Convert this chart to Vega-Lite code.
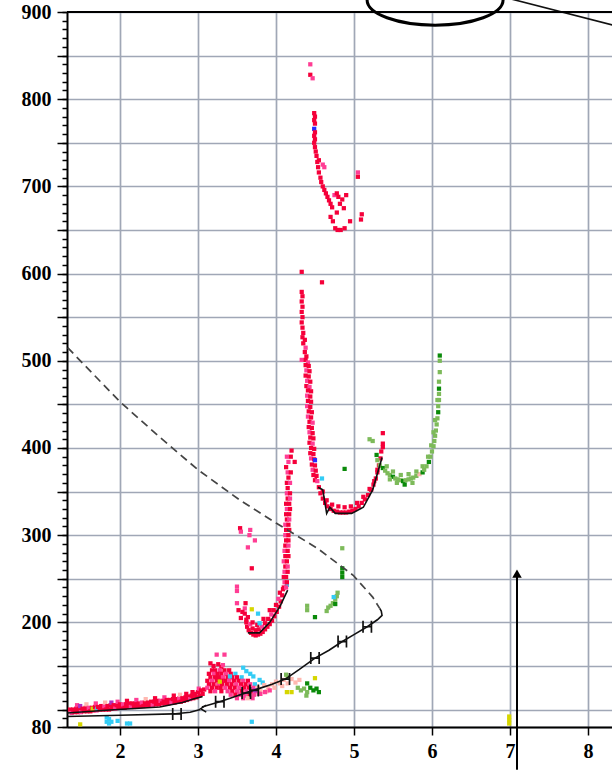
{
"$schema": "https://vega.github.io/schema/vega-lite/v6.json",
"width": 545, "height": 715,
"autosize": {"type": "none"},
"padding": {"left": 67, "top": 12, "right": 0, "bottom": 43},
"background": "white",
"config": {"view": {"stroke": null},
 "axis": {"labelFont": "Liberation Serif", "labelFontWeight": "bold", "labelFontSize": 20, "labelColor": "black", "tickColor": "black", "tickWidth": 1.5, "domainColor": "black", "domainWidth": 2, "gridColor": "#a0a7b6", "gridWidth": 1.7}},
"resolve": {"axis": {"y": "independent"}},
"datasets": {
"pts": [
{"x":1.36,"y":100,"c":"r"},{"x":1.38,"y":96,"c":"p"},{"x":1.40,"y":100,"c":"r"},{"x":1.42,"y":97,"c":"r"},
{"x":1.44,"y":101,"c":"r"},{"x":1.46,"y":97,"c":"r"},{"x":1.45,"y":105,"c":"p"},
{"x":1.48,"y":101,"c":"r"},{"x":1.50,"y":97,"c":"p"},{"x":1.49,"y":104,"c":"mg"},
{"x":1.52,"y":101,"c":"r"},{"x":1.54,"y":98,"c":"r"},
{"x":1.56,"y":102,"c":"r"},{"x":1.58,"y":98,"c":"r"},{"x":1.57,"y":106,"c":"lp"},
{"x":1.60,"y":102,"c":"p"},{"x":1.62,"y":98,"c":"r"},
{"x":1.64,"y":102,"c":"r"},{"x":1.66,"y":99,"c":"r"},{"x":1.65,"y":101,"c":"ye"},
{"x":1.68,"y":103,"c":"r"},{"x":1.70,"y":99,"c":"p"},{"x":1.69,"y":107,"c":"p"},{"x":1.71,"y":101,"c":"cy"},
{"x":1.72,"y":103,"c":"r"},{"x":1.74,"y":100,"c":"r"},
{"x":1.76,"y":104,"c":"r"},{"x":1.78,"y":100,"c":"r"},
{"x":1.80,"y":104,"c":"p"},{"x":1.82,"y":100,"c":"r"},{"x":1.81,"y":108,"c":"lp"},
{"x":1.84,"y":104,"c":"r"},{"x":1.86,"y":100,"c":"r"},
{"x":1.88,"y":105,"c":"r"},{"x":1.90,"y":101,"c":"r"},{"x":1.89,"y":108,"c":"mg"},
{"x":1.92,"y":105,"c":"r"},{"x":1.94,"y":101,"c":"p"},
{"x":1.96,"y":105,"c":"r"},{"x":1.98,"y":102,"c":"r"},{"x":1.97,"y":109,"c":"p"},
{"x":2.00,"y":106,"c":"r"},{"x":2.02,"y":102,"c":"r"},
{"x":2.04,"y":106,"c":"p"},{"x":2.06,"y":102,"c":"r"},
{"x":2.08,"y":106,"c":"r"},{"x":2.10,"y":103,"c":"r"},{"x":2.09,"y":110,"c":"r"},
{"x":2.12,"y":107,"c":"r"},{"x":2.14,"y":103,"c":"p"},
{"x":2.16,"y":107,"c":"r"},{"x":2.18,"y":103,"c":"r"},
{"x":2.20,"y":107,"c":"r"},{"x":2.22,"y":104,"c":"r"},{"x":2.21,"y":111,"c":"p"},
{"x":2.24,"y":107,"c":"r"},{"x":2.26,"y":104,"c":"r"},
{"x":2.28,"y":108,"c":"p"},{"x":2.30,"y":104,"c":"r"},
{"x":2.32,"y":108,"c":"r"},{"x":2.34,"y":105,"c":"r"},{"x":2.33,"y":112,"c":"lp"},
{"x":2.36,"y":108,"c":"r"},{"x":2.38,"y":105,"c":"r"},
{"x":2.40,"y":109,"c":"r"},{"x":2.42,"y":105,"c":"p"},
{"x":2.44,"y":109,"c":"r"},{"x":2.46,"y":106,"c":"r"},{"x":2.45,"y":113,"c":"r"},
{"x":2.48,"y":110,"c":"r"},{"x":2.50,"y":106,"c":"r"},
{"x":2.52,"y":110,"c":"p"},{"x":2.54,"y":107,"c":"r"},
{"x":2.56,"y":110,"c":"r"},{"x":2.58,"y":107,"c":"r"},{"x":2.57,"y":114,"c":"p"},
{"x":2.60,"y":111,"c":"r"},{"x":2.62,"y":107,"c":"r"},
{"x":2.64,"y":111,"c":"r"},{"x":2.66,"y":108,"c":"p"},
{"x":2.68,"y":112,"c":"r"},{"x":2.70,"y":108,"c":"r"},{"x":2.69,"y":116,"c":"r"},
{"x":2.72,"y":112,"c":"r"},{"x":2.74,"y":109,"c":"r"},
{"x":2.76,"y":113,"c":"p"},{"x":2.78,"y":109,"c":"r"},{"x":2.77,"y":117,"c":"lp"},
{"x":2.80,"y":113,"c":"r"},{"x":2.82,"y":110,"c":"r"},
{"x":2.84,"y":114,"c":"r"},{"x":2.86,"y":111,"c":"r"},{"x":2.85,"y":118,"c":"r"},
{"x":2.88,"y":115,"c":"r"},{"x":2.90,"y":112,"c":"p"},
{"x":2.92,"y":116,"c":"r"},{"x":2.94,"y":113,"c":"r"},{"x":2.93,"y":120,"c":"r"},
{"x":2.96,"y":118,"c":"r"},{"x":2.98,"y":114,"c":"r"},
{"x":3.00,"y":120,"c":"r"},{"x":3.02,"y":116,"c":"r"},{"x":3.01,"y":124,"c":"p"},
{"x":3.04,"y":122,"c":"r"},{"x":3.06,"y":118,"c":"r"},{"x":3.08,"y":123,"c":"r"},
{"x":3.24,"y":163,"c":"p"},{"x":3.34,"y":163,"c":"p"},{"x":3.16,"y":153,"c":"r"},{"x":3.20,"y":150,"c":"r"},{"x":3.26,"y":152,"c":"r"},{"x":3.30,"y":149,"c":"r"},{"x":3.32,"y":151,"c":"p"},
{"x":3.18,"y":145,"c":"r"},{"x":3.22,"y":145,"c":"r"},{"x":3.28,"y":145,"c":"p"},{"x":3.34,"y":145,"c":"r"},{"x":3.40,"y":145,"c":"r"},
{"x":3.14,"y":141,"c":"r"},{"x":3.20,"y":141,"c":"p"},{"x":3.25,"y":141,"c":"r"},{"x":3.30,"y":141,"c":"r"},{"x":3.36,"y":141,"c":"p"},{"x":3.42,"y":141,"c":"r"},{"x":3.48,"y":141,"c":"cy"},
{"x":3.16,"y":137,"c":"r"},{"x":3.22,"y":137,"c":"r"},{"x":3.27,"y":137,"c":"r"},{"x":3.32,"y":137,"c":"p"},{"x":3.38,"y":137,"c":"r"},{"x":3.44,"y":137,"c":"r"},{"x":3.50,"y":137,"c":"r"},{"x":3.56,"y":137,"c":"cy"},
{"x":3.12,"y":133,"c":"r"},{"x":3.18,"y":133,"c":"p"},{"x":3.24,"y":133,"c":"r"},{"x":3.30,"y":133,"c":"r"},{"x":3.35,"y":133,"c":"r"},{"x":3.40,"y":133,"c":"p"},{"x":3.46,"y":133,"c":"r"},{"x":3.52,"y":133,"c":"r"},{"x":3.58,"y":133,"c":"p"},{"x":3.64,"y":133,"c":"r"},
{"x":3.14,"y":129,"c":"r"},{"x":3.20,"y":129,"c":"r"},{"x":3.26,"y":129,"c":"p"},{"x":3.31,"y":129,"c":"r"},{"x":3.37,"y":129,"c":"r"},{"x":3.43,"y":129,"c":"r"},{"x":3.49,"y":129,"c":"p"},{"x":3.55,"y":129,"c":"r"},{"x":3.61,"y":129,"c":"r"},{"x":3.67,"y":129,"c":"p"},{"x":3.73,"y":129,"c":"cy"},
{"x":3.12,"y":125,"c":"p"},{"x":3.18,"y":125,"c":"r"},{"x":3.24,"y":125,"c":"r"},{"x":3.29,"y":125,"c":"r"},{"x":3.35,"y":125,"c":"p"},{"x":3.41,"y":125,"c":"r"},{"x":3.47,"y":125,"c":"r"},{"x":3.53,"y":125,"c":"p"},{"x":3.59,"y":125,"c":"r"},{"x":3.65,"y":125,"c":"r"},{"x":3.71,"y":125,"c":"p"},{"x":3.77,"y":125,"c":"lp"},
{"x":3.16,"y":121,"c":"r"},{"x":3.22,"y":121,"c":"p"},{"x":3.30,"y":121,"c":"r"},{"x":3.38,"y":121,"c":"p"},{"x":3.44,"y":121,"c":"r"},{"x":3.50,"y":121,"c":"p"},{"x":3.56,"y":121,"c":"r"},{"x":3.62,"y":121,"c":"p"},{"x":3.68,"y":121,"c":"r"},{"x":3.74,"y":121,"c":"p"},{"x":3.80,"y":121,"c":"lp"},
{"x":3.42,"y":117,"c":"p"},{"x":3.48,"y":117,"c":"r"},{"x":3.54,"y":117,"c":"p"},{"x":3.60,"y":116,"c":"p"},{"x":3.66,"y":117,"c":"r"},{"x":3.72,"y":117,"c":"p"},{"x":3.78,"y":118,"c":"p"},
{"x":3.50,"y":113,"c":"p"},{"x":3.58,"y":113,"c":"p"},{"x":3.64,"y":113,"c":"lp"},{"x":3.70,"y":113,"c":"p"},
{"x":3.41,"y":138,"c":"cy"},{"x":3.62,"y":144,"c":"cy"},{"x":3.67,"y":141,"c":"cy"},{"x":3.71,"y":138,"c":"cy"},{"x":3.79,"y":134,"c":"cy"},{"x":3.83,"y":131,"c":"cy"},{"x":3.58,"y":148,"c":"cy"},
{"x":3.28,"y":132,"c":"ye"},{"x":3.73,"y":122,"c":"mg"},
{"x":3.85,"y":128,"c":"lp"},{"x":3.90,"y":125,"c":"lp"},{"x":3.95,"y":129,"c":"lp"},{"x":4.00,"y":132,"c":"lp"},{"x":4.05,"y":130,"c":"lp"},{"x":4.10,"y":134,"c":"lp"},{"x":4.15,"y":130,"c":"lp"},{"x":4.20,"y":135,"c":"lp"},{"x":4.25,"y":131,"c":"lp"},{"x":4.30,"y":134,"c":"lp"},{"x":3.88,"y":121,"c":"lp"},{"x":3.98,"y":125,"c":"lp"},{"x":4.08,"y":127,"c":"lp"},
{"x":3.80,"y":118,"c":"p"},{"x":3.86,"y":120,"c":"p"},{"x":3.92,"y":122,"c":"p"},
{"x":3.62,"y":200,"c":"r"},{"x":3.63,"y":195,"c":"r"},{"x":3.65,"y":191,"c":"r"},{"x":3.68,"y":188,"c":"r"},{"x":3.71,"y":186,"c":"r"},{"x":3.74,"y":185,"c":"r"},{"x":3.77,"y":186,"c":"r"},{"x":3.80,"y":187,"c":"r"},{"x":3.83,"y":189,"c":"r"},{"x":3.86,"y":192,"c":"r"},{"x":3.89,"y":195,"c":"r"},{"x":3.92,"y":198,"c":"r"},{"x":3.95,"y":202,"c":"r"},{"x":3.98,"y":207,"c":"r"},{"x":4.01,"y":212,"c":"r"},{"x":4.04,"y":218,"c":"r"},{"x":4.06,"y":224,"c":"r"},{"x":4.08,"y":231,"c":"r"},{"x":4.09,"y":238,"c":"r"},
{"x":3.64,"y":206,"c":"r"},{"x":3.67,"y":198,"c":"p"},{"x":3.70,"y":193,"c":"r"},{"x":3.74,"y":191,"c":"r"},{"x":3.78,"y":192,"c":"r"},{"x":3.82,"y":195,"c":"p"},{"x":3.86,"y":199,"c":"r"},{"x":3.90,"y":204,"c":"r"},{"x":3.94,"y":209,"c":"p"},{"x":3.97,"y":214,"c":"r"},{"x":4.00,"y":220,"c":"r"},{"x":4.03,"y":227,"c":"p"},{"x":4.05,"y":234,"c":"r"},{"x":3.70,"y":200,"c":"r"},{"x":3.76,"y":197,"c":"r"},{"x":3.84,"y":204,"c":"r"},{"x":3.92,"y":214,"c":"r"},
{"x":3.60,"y":210,"c":"r"},{"x":3.60,"y":216,"c":"p"},{"x":3.61,"y":222,"c":"r"},{"x":3.52,"y":214,"c":"r"},{"x":3.57,"y":212,"c":"r"},{"x":3.55,"y":205,"c":"r"},{"x":3.62,"y":203,"c":"r"},
{"x":3.69,"y":215,"c":"ye"},{"x":3.77,"y":210,"c":"cy"},{"x":3.79,"y":199,"c":"cy"},{"x":4.14,"y":243,"c":"cy"},
{"x":3.54,"y":308,"c":"r"},{"x":3.55,"y":304,"c":"p"},{"x":3.67,"y":306,"c":"p"},{"x":3.66,"y":300,"c":"p"},{"x":3.73,"y":294,"c":"p"},{"x":3.64,"y":286,"c":"p"},{"x":3.69,"y":262,"c":"r"},{"x":3.50,"y":241,"c":"p"},{"x":3.50,"y":236,"c":"p"},{"x":3.50,"y":222,"c":"p"},
{"x":4.10,"y":240,"c":"r"},{"x":4.13,"y":240,"c":"p"},{"x":4.11,"y":246,"c":"p"},{"x":4.14,"y":246,"c":"r"},{"x":4.10,"y":252,"c":"r"},{"x":4.13,"y":252,"c":"r"},{"x":4.11,"y":258,"c":"p"},{"x":4.15,"y":258,"c":"r"},{"x":4.12,"y":264,"c":"r"},{"x":4.15,"y":264,"c":"p"},{"x":4.10,"y":270,"c":"p"},{"x":4.14,"y":270,"c":"r"},{"x":4.12,"y":276,"c":"r"},{"x":4.16,"y":276,"c":"r"},{"x":4.11,"y":282,"c":"p"},{"x":4.15,"y":282,"c":"r"},{"x":4.12,"y":288,"c":"r"},{"x":4.16,"y":288,"c":"p"},{"x":4.13,"y":294,"c":"r"},{"x":4.16,"y":294,"c":"r"},{"x":4.12,"y":300,"c":"p"},{"x":4.16,"y":300,"c":"r"},{"x":4.13,"y":306,"c":"r"},{"x":4.17,"y":306,"c":"r"},{"x":4.12,"y":312,"c":"p"},{"x":4.16,"y":312,"c":"r"},{"x":4.14,"y":318,"c":"r"},{"x":4.17,"y":318,"c":"p"},{"x":4.13,"y":324,"c":"r"},{"x":4.17,"y":324,"c":"r"},{"x":4.14,"y":330,"c":"p"},{"x":4.18,"y":330,"c":"r"},{"x":4.13,"y":336,"c":"r"},{"x":4.17,"y":336,"c":"r"},{"x":4.15,"y":342,"c":"r"},{"x":4.18,"y":342,"c":"p"},{"x":4.14,"y":348,"c":"p"},{"x":4.18,"y":348,"c":"r"},{"x":4.15,"y":354,"c":"r"},{"x":4.14,"y":360,"c":"r"},{"x":4.18,"y":360,"c":"p"},{"x":4.16,"y":366,"c":"r"},{"x":4.15,"y":372,"c":"p"},{"x":4.19,"y":372,"c":"r"},{"x":4.13,"y":378,"c":"r"},{"x":4.16,"y":384,"c":"p"},{"x":4.24,"y":384,"c":"r"},{"x":4.19,"y":390,"c":"r"},{"x":4.20,"y":397,"c":"r"},{"x":4.14,"y":390,"c":"p"},
{"x":4.33,"y":602,"c":"r"},{"x":4.59,"y":590,"c":"r"},
{"x":4.33,"y":579,"c":"r"},{"x":4.34,"y":574,"c":"r"},{"x":4.33,"y":568,"c":"r"},{"x":4.34,"y":562,"c":"r"},{"x":4.33,"y":556,"c":"r"},{"x":4.34,"y":550,"c":"r"},{"x":4.33,"y":544,"c":"r"},{"x":4.34,"y":538,"c":"r"},{"x":4.35,"y":532,"c":"r"},{"x":4.34,"y":527,"c":"r"},{"x":4.37,"y":524,"c":"r"},{"x":4.35,"y":520,"c":"r"},{"x":4.38,"y":515,"c":"p"},{"x":4.37,"y":510,"c":"r"},{"x":4.39,"y":505,"c":"r"},{"x":4.33,"y":501,"c":"p"},{"x":4.38,"y":501,"c":"r"},{"x":4.41,"y":498,"c":"p"},
{"x":4.38,"y":495,"c":"r"},{"x":4.42,"y":494,"c":"r"},{"x":4.39,"y":489,"c":"p"},{"x":4.43,"y":488,"c":"r"},{"x":4.38,"y":483,"c":"r"},{"x":4.42,"y":482,"c":"r"},{"x":4.40,"y":477,"c":"p"},{"x":4.44,"y":476,"c":"r"},{"x":4.39,"y":471,"c":"r"},{"x":4.43,"y":470,"c":"p"},{"x":4.41,"y":466,"c":"r"},{"x":4.45,"y":465,"c":"r"},
{"x":4.40,"y":460,"c":"p"},{"x":4.44,"y":459,"c":"r"},{"x":4.41,"y":454,"c":"r"},{"x":4.45,"y":453,"c":"r"},{"x":4.40,"y":448,"c":"p"},{"x":4.44,"y":447,"c":"r"},{"x":4.42,"y":442,"c":"r"},{"x":4.46,"y":441,"c":"r"},{"x":4.41,"y":436,"c":"p"},{"x":4.45,"y":435,"c":"r"},{"x":4.43,"y":430,"c":"r"},{"x":4.47,"y":429,"c":"p"},
{"x":4.42,"y":424,"c":"r"},{"x":4.46,"y":423,"c":"r"},{"x":4.43,"y":418,"c":"p"},{"x":4.47,"y":417,"c":"r"},{"x":4.44,"y":412,"c":"r"},{"x":4.48,"y":411,"c":"r"},{"x":4.43,"y":406,"c":"r"},{"x":4.47,"y":405,"c":"p"},{"x":4.45,"y":400,"c":"r"},{"x":4.49,"y":399,"c":"r"},
{"x":4.44,"y":394,"c":"r"},{"x":4.48,"y":393,"c":"r"},{"x":4.45,"y":388,"c":"p"},{"x":4.49,"y":387,"c":"r"},{"x":4.46,"y":381,"c":"r"},{"x":4.50,"y":380,"c":"r"},{"x":4.47,"y":375,"c":"p"},{"x":4.51,"y":374,"c":"r"},{"x":4.48,"y":369,"c":"r"},{"x":4.52,"y":368,"c":"r"},{"x":4.50,"y":363,"c":"r"},{"x":4.53,"y":362,"c":"p"},{"x":4.50,"y":386,"c":"bl"},{"x":4.59,"y":365,"c":"cy"},
{"x":4.55,"y":355,"c":"r"},{"x":4.57,"y":348,"c":"r"},{"x":4.60,"y":342,"c":"r"},{"x":4.63,"y":337,"c":"r"},{"x":4.66,"y":333,"c":"r"},{"x":4.70,"y":330,"c":"r"},{"x":4.74,"y":328,"c":"r"},{"x":4.78,"y":327,"c":"r"},{"x":4.82,"y":326,"c":"r"},{"x":4.86,"y":326,"c":"r"},{"x":4.90,"y":326,"c":"r"},{"x":4.94,"y":327,"c":"r"},{"x":4.98,"y":328,"c":"r"},{"x":5.02,"y":330,"c":"r"},{"x":5.06,"y":333,"c":"r"},{"x":5.10,"y":337,"c":"r"},{"x":5.14,"y":341,"c":"r"},{"x":5.18,"y":346,"c":"r"},{"x":5.22,"y":352,"c":"r"},{"x":5.25,"y":358,"c":"r"},{"x":5.28,"y":365,"c":"r"},{"x":5.30,"y":372,"c":"r"},{"x":5.32,"y":380,"c":"r"},{"x":5.34,"y":388,"c":"r"},{"x":5.35,"y":396,"c":"r"},
{"x":4.60,"y":350,"c":"r"},{"x":4.65,"y":340,"c":"r"},{"x":4.72,"y":335,"c":"r"},{"x":4.80,"y":333,"c":"r"},{"x":4.88,"y":332,"c":"r"},{"x":4.96,"y":333,"c":"r"},{"x":5.04,"y":337,"c":"r"},{"x":5.12,"y":344,"c":"r"},{"x":5.20,"y":353,"c":"r"},{"x":5.26,"y":362,"c":"r"},{"x":5.30,"y":375,"c":"r"},
{"x":5.37,"y":401,"c":"r"},{"x":5.37,"y":405,"c":"r"},{"x":5.37,"y":417,"c":"r"},
{"x":4.44,"y":840,"c":"p"},{"x":4.44,"y":828,"c":"r"},{"x":4.47,"y":824,"c":"p"},
{"x":4.49,"y":784,"c":"r"},{"x":4.50,"y":780,"c":"r"},{"x":4.49,"y":776,"c":"r"},{"x":4.50,"y":772,"c":"r"},{"x":4.49,"y":766,"c":"bl"},{"x":4.50,"y":762,"c":"r"},{"x":4.49,"y":758,"c":"r"},{"x":4.50,"y":754,"c":"r"},{"x":4.49,"y":750,"c":"r"},
{"x":4.50,"y":745,"c":"r"},{"x":4.51,"y":740,"c":"r"},{"x":4.52,"y":735,"c":"r"},{"x":4.53,"y":728,"c":"r"},{"x":4.54,"y":722,"c":"r"},{"x":4.55,"y":716,"c":"r"},{"x":4.57,"y":710,"c":"r"},{"x":4.58,"y":705,"c":"r"},{"x":4.60,"y":700,"c":"r"},{"x":4.62,"y":696,"c":"r"},{"x":4.64,"y":692,"c":"r"},{"x":4.66,"y":688,"c":"r"},{"x":4.68,"y":684,"c":"r"},{"x":4.70,"y":680,"c":"r"},{"x":4.72,"y":676,"c":"r"},{"x":4.75,"y":690,"c":"p"},{"x":4.78,"y":692,"c":"r"},{"x":4.80,"y":688,"c":"r"},{"x":4.82,"y":680,"c":"r"},{"x":4.85,"y":685,"c":"r"},{"x":4.87,"y":675,"c":"r"},{"x":4.90,"y":690,"c":"r"},{"x":4.78,"y":670,"c":"r"},{"x":4.70,"y":665,"c":"r"},{"x":4.73,"y":660,"c":"r"},{"x":4.76,"y":652,"c":"r"},{"x":4.79,"y":650,"c":"r"},{"x":4.83,"y":650,"c":"r"},{"x":4.88,"y":652,"c":"r"},{"x":4.95,"y":660,"c":"r"},{"x":5.05,"y":716,"c":"p"},{"x":5.05,"y":711,"c":"r"},{"x":5.10,"y":668,"c":"r"},{"x":5.09,"y":662,"c":"r"},{"x":4.60,"y":725,"c":"p"},{"x":4.62,"y":722,"c":"p"},{"x":4.55,"y":730,"c":"r"},
{"x":5.20,"y":410,"c":"lg"},{"x":5.24,"y":408,"c":"lg"},{"x":5.29,"y":392,"c":"dg"},{"x":5.30,"y":386,"c":"lg"},{"x":5.33,"y":380,"c":"lg"},
{"x":5.37,"y":377,"c":"dg"},{"x":5.40,"y":374,"c":"lg"},{"x":5.43,"y":371,"c":"lg"},{"x":5.46,"y":369,"c":"lg"},{"x":5.50,"y":367,"c":"dg"},{"x":5.53,"y":365,"c":"lg"},{"x":5.56,"y":364,"c":"lg"},{"x":5.60,"y":363,"c":"lg"},{"x":5.63,"y":362,"c":"dg"},{"x":5.66,"y":363,"c":"lg"},{"x":5.70,"y":364,"c":"lg"},{"x":5.73,"y":365,"c":"lg"},{"x":5.76,"y":366,"c":"lg"},{"x":5.80,"y":368,"c":"lg"},{"x":5.84,"y":370,"c":"lp"},{"x":5.88,"y":372,"c":"dg"},{"x":5.90,"y":375,"c":"lg"},{"x":5.93,"y":379,"c":"lg"},{"x":5.96,"y":384,"c":"dg"},{"x":5.98,"y":390,"c":"lg"},{"x":6.00,"y":396,"c":"lg"},{"x":6.02,"y":402,"c":"lg"},{"x":6.03,"y":408,"c":"lg"},{"x":6.04,"y":414,"c":"lg"},{"x":6.05,"y":420,"c":"lg"},{"x":6.06,"y":427,"c":"lg"},{"x":6.07,"y":434,"c":"lg"},{"x":6.08,"y":441,"c":"dg"},{"x":6.08,"y":448,"c":"lg"},{"x":6.09,"y":455,"c":"lg"},{"x":6.09,"y":462,"c":"lg"},{"x":6.09,"y":468,"c":"dg"},{"x":6.09,"y":476,"c":"lg"},{"x":6.10,"y":487,"c":"lg"},{"x":6.10,"y":500,"c":"lg"},{"x":6.10,"y":506,"c":"dg"},
{"x":5.42,"y":379,"c":"lg"},{"x":5.50,"y":373,"c":"lg"},{"x":5.60,"y":369,"c":"lg"},{"x":5.70,"y":370,"c":"lg"},{"x":5.80,"y":373,"c":"lg"},{"x":5.88,"y":379,"c":"lg"},{"x":5.95,"y":390,"c":"lg"},{"x":5.99,"y":403,"c":"lg"},{"x":6.02,"y":418,"c":"lg"},{"x":6.04,"y":432,"c":"lg"},{"x":5.46,"y":364,"c":"lg"},{"x":5.55,"y":360,"c":"lg"},{"x":5.65,"y":358,"c":"dg"},{"x":5.75,"y":360,"c":"lg"},{"x":6.07,"y":455,"c":"lg"},
{"x":4.88,"y":376,"c":"dg"},
{"x":4.85,"y":285,"c":"lg"},{"x":4.85,"y":262,"c":"dg"},{"x":4.85,"y":257,"c":"dg"},{"x":4.85,"y":252,"c":"dg"},{"x":4.40,"y":219,"c":"lg"},{"x":4.40,"y":214,"c":"lg"},{"x":4.50,"y":206,"c":"dg"},{"x":4.65,"y":213,"c":"lg"},{"x":4.67,"y":217,"c":"lg"},{"x":4.70,"y":219,"c":"lg"},{"x":4.73,"y":222,"c":"lg"},{"x":4.76,"y":226,"c":"lg"},{"x":4.78,"y":230,"c":"lg"},{"x":4.79,"y":234,"c":"lg"},{"x":4.76,"y":221,"c":"dg"},{"x":4.74,"y":229,"c":"cy"},
{"x":4.15,"y":137,"c":"lg"},{"x":4.13,"y":140,"c":"lg"},{"x":4.40,"y":130,"c":"dg"},{"x":4.44,"y":125,"c":"dg"},{"x":4.48,"y":122,"c":"dg"},{"x":4.52,"y":124,"c":"dg"},{"x":4.55,"y":120,"c":"dg"},{"x":4.28,"y":125,"c":"lg"},{"x":4.32,"y":122,"c":"lg"},{"x":4.36,"y":124,"c":"lg"},{"x":4.40,"y":120,"c":"lg"},{"x":4.39,"y":116,"c":"lg"},{"x":4.50,"y":136,"c":"ye"},{"x":4.14,"y":120,"c":"ye"},{"x":4.20,"y":120,"c":"ye"},
{"x":1.83,"y":91,"c":"cy"},{"x":1.83,"y":86,"c":"cy"},{"x":1.86,"y":84,"c":"cy"},{"x":1.89,"y":86,"c":"cy"},{"x":1.86,"y":89,"c":"cy"},{"x":1.97,"y":87,"c":"cy"},{"x":2.09,"y":84,"c":"cy"},{"x":2.13,"y":84,"c":"cy"},{"x":1.49,"y":83,"c":"ye"},{"x":3.69,"y":86,"c":"cy"},
{"x":6.99,"y":84,"c":"ye"},{"x":6.99,"y":88,"c":"ye"},{"x":6.99,"y":92,"c":"ye"}
],
"lines": [
{"s":"L1","o":1,"x":1.32,"y":92},{"s":"L1","o":2,"x":2.0,"y":93.5},{"s":"L1","o":3,"x":2.68,"y":95},{"s":"L1","o":4,"x":2.9,"y":97},{"s":"L1","o":5,"x":3.03,"y":100},
{"s":"L2","o":1,"x":1.32,"y":96},{"s":"L2","o":2,"x":1.87,"y":99.5},{"s":"L2","o":3,"x":2.51,"y":103},{"s":"L2","o":4,"x":2.8,"y":108},{"s":"L2","o":5,"x":2.94,"y":112},{"s":"L2","o":6,"x":3.06,"y":115},
{"s":"L3","o":1,"x":3.05,"y":103},{"s":"L3","o":2,"x":3.28,"y":109},{"s":"L3","o":3,"x":3.45,"y":114},{"s":"L3","o":4,"x":3.64,"y":120},{"s":"L3","o":5,"x":3.78,"y":124},{"s":"L3","o":6,"x":3.95,"y":129},{"s":"L3","o":7,"x":4.12,"y":135},{"s":"L3","o":8,"x":4.3,"y":146},{"s":"L3","o":9,"x":4.5,"y":159},{"s":"L3","o":10,"x":4.68,"y":168},{"s":"L3","o":11,"x":4.85,"y":178},{"s":"L3","o":12,"x":5.0,"y":186},{"s":"L3","o":13,"x":5.17,"y":195},{"s":"L3","o":14,"x":5.3,"y":203},{"s":"L3","o":15,"x":5.36,"y":208},{"s":"L3","o":16,"x":5.35,"y":213},{"s":"L3","o":17,"x":5.33,"y":216},
{"s":"L4","o":1,"x":3.64,"y":188},{"s":"L4","o":2,"x":3.79,"y":188},{"s":"L4","o":3,"x":3.92,"y":200},{"s":"L4","o":4,"x":4.05,"y":218},{"s":"L4","o":5,"x":4.15,"y":237},
{"s":"L5","o":1,"x":4.54,"y":355},{"s":"L5","o":2,"x":4.6,"y":352},{"s":"L5","o":3,"x":4.65,"y":325},{"s":"L5","o":4,"x":4.69,"y":332},{"s":"L5","o":5,"x":4.76,"y":325},{"s":"L5","o":6,"x":4.97,"y":325},{"s":"L5","o":7,"x":5.12,"y":332},{"s":"L5","o":8,"x":5.24,"y":352},{"s":"L5","o":9,"x":5.36,"y":389},
{"s":"A","o":1,"x":6.487,"y":927},{"s":"A","o":2,"x":8.67,"y":877}
],
"dash": [
{"o":1,"x":1.33,"y":515},{"o":2,"x":2.0,"y":453},{"o":3,"x":2.49,"y":414},{"o":4,"x":3.0,"y":375},{"o":5,"x":3.54,"y":340},{"o":6,"x":4.0,"y":314},{"o":7,"x":4.53,"y":285},{"o":8,"x":4.99,"y":254},{"o":9,"x":5.24,"y":229},{"o":10,"x":5.33,"y":216}
],
"hm": [
{"x":2.73,"y":95},{"x":3.28,"y":109},{"x":3.62,"y":119},{"x":3.72,"y":122},{"x":4.12,"y":135},{"x":4.5,"y":159},{"x":4.85,"y":178},{"x":5.17,"y":195}
]
},
"layer": [
{"data": {"name": "pts"},
 "mark": {"type": "square", "size": 18, "opacity": 1},
 "encoding": {
  "x": {"field": "x", "type": "quantitative", "title": null,
   "scale": {"domain": [1.321, 8.308], "nice": false, "zero": false},
   "axis": {"values": [2,3,4,5,6,7,8], "format": "d", "grid": true, "tickSize": 8, "labelPadding": 6, "labelFlush": false, "labelOverlap": false, "labelFont": "Liberation Serif", "labelFontWeight": "bold", "labelFontSize": 20}},
  "y": {"field": "y", "type": "quantitative", "title": null,
   "scale": {"domain": [80, 900], "nice": false, "zero": false},
   "axis": {"orient": "left", "values": [80,100,150,200,250,300,350,400,450,500,550,600,650,700,750,800,850,900],
    "format": "d", "grid": true, "tickSize": 10,
    "labelExpr": "datum.value == 80 || (datum.value >= 200 && datum.value % 100 == 0) ? datum.label : ''",
    "labelPadding": 6, "labelFlush": false, "labelOverlap": false, "labelFont": "Liberation Serif", "labelFontWeight": "bold", "labelFontSize": 20}},
  "color": {"field": "c", "type": "nominal", "legend": null,
   "scale": {"domain": ["r","p","lp","cy","dg","lg","ye","bl","mg"], "range": ["#f5003a","#ff3d94","#ffb8b0","#33ccf5","#0a8a0a","#7dba5a","#d6d600","#2a2aff","#b030c0"]}}
 }},
{"data": {"name": "lines"},
 "mark": {"type": "line", "color": "#111111", "strokeWidth": 1.6},
 "encoding": {"x": {"field": "x", "type": "quantitative", "title": null}, "y": {"field": "y", "type": "quantitative", "title": null, "axis": null}, "detail": {"field": "s"}, "order": {"field": "o"}}},
{"data": {"name": "dash"},
 "mark": {"type": "line", "color": "#444444", "strokeWidth": 1.7, "strokeDash": [8, 5]},
 "encoding": {"x": {"field": "x", "type": "quantitative", "title": null}, "y": {"field": "y", "type": "quantitative", "title": null, "axis": null}, "order": {"field": "o"}}},
{"data": {"name": "hm"},
 "mark": {"type": "point", "shape": "M-0.7,-1L-0.7,1M0.7,-1L0.7,1M-0.7,0L0.7,0", "size": 144, "filled": false, "color": "#111111", "strokeWidth": 1.7, "opacity": 1},
 "encoding": {"x": {"field": "x", "type": "quantitative", "title": null},
  "y": {"field": "y", "type": "quantitative", "title": null,
   "axis": {"orient": "left", "values": [80,90,100,110,120,130,140,150,160,170,180,190,200,210,220,230,240,250,260,270,280,290,300,310,320,330,340,350,360,370,380,390,400,410,420,430,440,450,460,470,480,490,500,510,520,530,540,550,560,570,580,590,600,610,620,630,640,650,660,670,680,690,700,710,720,730,740,750,760,770,780,790,800,810,820,830,840,850,860,870,880,890,900], "labels": false, "grid": false, "domain": false, "tickSize": 5, "title": null}}}},
{"data": {"values": [{"x": 3.07, "y": 101}]},
 "mark": {"type": "point", "shape": "M0.8,-1L-0.8,0L0.8,1", "size": 50, "filled": false, "color": "#111111", "strokeWidth": 1.5, "opacity": 1},
 "encoding": {"x": {"field": "x", "type": "quantitative", "title": null}, "y": {"field": "y", "type": "quantitative", "title": null, "axis": null}}},
{"data": {"values": [{"x": 7.09, "y": 31, "y2": 255}]},
 "mark": {"type": "rule", "color": "black", "strokeWidth": 2},
 "encoding": {"x": {"field": "x", "type": "quantitative", "title": null}, "y": {"field": "y", "type": "quantitative", "title": null, "axis": null}, "y2": {"field": "y2"}}},
{"data": {"values": [{"x": 7.09, "y": 256}]},
 "mark": {"type": "point", "shape": "triangle-up", "size": 90, "filled": true, "color": "black", "opacity": 1},
 "encoding": {"x": {"field": "x", "type": "quantitative", "title": null}, "y": {"field": "y", "type": "quantitative", "title": null, "axis": null}}},
{"data": {"values": [{"x": 6.04, "y": 913.8}]},
 "mark": {"type": "point", "shape": "M-1,0A1,0.37,0,1,0,1,0A1,0.37,0,1,0,-1,0Z", "size": 18496, "filled": false, "color": "black", "strokeWidth": 3, "opacity": 1},
 "encoding": {"x": {"field": "x", "type": "quantitative", "title": null}, "y": {"field": "y", "type": "quantitative", "title": null, "axis": null}}},
{"data": {"values": [{"y": 900}]},
 "mark": {"type": "rule", "color": "black", "strokeWidth": 2},
 "encoding": {"y": {"field": "y", "type": "quantitative", "title": null, "axis": null}}}
]
}
